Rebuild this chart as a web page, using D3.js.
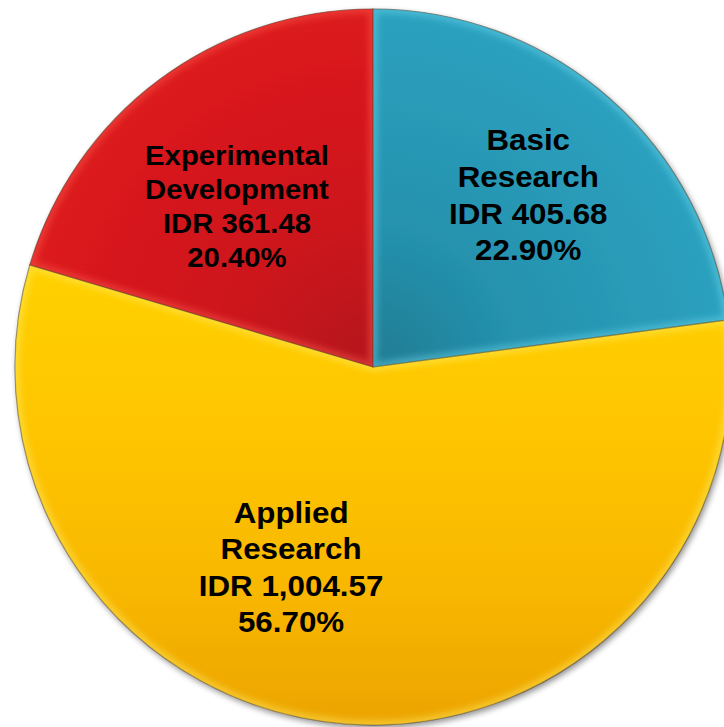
<!DOCTYPE html>
<html>
<head>
<meta charset="utf-8">
<script src="https://cdn.jsdelivr.net/npm/d3@7"></script>
<style>
  html, body { margin: 0; padding: 0; background: #fff; }
  svg { display: block; }
</style>
</head>
<body>
<svg></svg>
<script>
// R&D spending by type (IDR)
const categories = ["Basic Research", "Applied Research", "Experimental Development"]
const values = [405.68, 1004.57, 361.48]
const amountLabels = ["IDR 405.68", "IDR 1,004.57", "IDR 361.48"]
const percentLabels = ["22.90%", "56.70%", "20.40%"]
const nameLines = [["Basic", "Research"], ["Applied", "Research"], ["Experimental", "Development"]]

const width = 724, height = 727
const cx = 373, cy = 367, radius = 358

// label placement: angle (deg, clockwise from top), distance as fraction of radius
const labelLayout = [
  {angle: 42, dist: 0.648, size: 30, lh: 36.7},
  {angle: 202.3, dist: 0.603, size: 30, lh: 36.3},
  {angle: -40.1, dist: 0.59, size: 28, lh: 34}
]

const svg = d3.select("svg")
  .attr("width", width)
  .attr("height", height)

const defs = svg.append("defs")

// gradients are in the pie group's coordinates (origin = pie centre)
const gBlue = defs.append("radialGradient").attr("id", "gBlue")
  .attr("gradientUnits", "userSpaceOnUse")
  .attr("cx", 0).attr("cy", 0).attr("r", radius)
gBlue.append("stop").attr("offset", 0).attr("stop-color", "#1f7c93")
gBlue.append("stop").attr("offset", 0.4).attr("stop-color", "#2592ae")
gBlue.append("stop").attr("offset", 1).attr("stop-color", "#2ca1bf")

const gYellow = defs.append("linearGradient").attr("id", "gYellow")
  .attr("gradientUnits", "userSpaceOnUse")
  .attr("x1", 0).attr("y1", -90).attr("x2", 0).attr("y2", radius)
gYellow.append("stop").attr("offset", 0).attr("stop-color", "#ffd000")
gYellow.append("stop").attr("offset", 0.35).attr("stop-color", "#fec500")
gYellow.append("stop").attr("offset", 0.7).attr("stop-color", "#f8b700")
gYellow.append("stop").attr("offset", 1).attr("stop-color", "#eca403")

const gRed = defs.append("radialGradient").attr("id", "gRed")
  .attr("gradientUnits", "userSpaceOnUse")
  .attr("cx", 0).attr("cy", 0).attr("r", radius)
gRed.append("stop").attr("offset", 0).attr("stop-color", "#b3141a")
gRed.append("stop").attr("offset", 0.4).attr("stop-color", "#cc171c")
gRed.append("stop").attr("offset", 1).attr("stop-color", "#dc1a1e")

const fills = ["url(#gBlue)", "url(#gYellow)", "url(#gRed)"]
const glows = ["#6fd6ee", "#fff06a", "#ff5a52"]

const shadow = defs.append("filter").attr("id", "shadow")
  .attr("x", "-10%").attr("y", "-10%").attr("width", "120%").attr("height", "120%")
shadow.append("feGaussianBlur").attr("in", "SourceAlpha").attr("stdDeviation", 3)
shadow.append("feOffset").attr("dx", 2).attr("dy", 3).attr("result", "blur")
shadow.append("feComponentTransfer").append("feFuncA").attr("type", "linear").attr("slope", 0.45)
const merge = shadow.append("feMerge")
merge.append("feMergeNode")
merge.append("feMergeNode").attr("in", "SourceGraphic")

defs.append("filter").attr("id", "soft")
  .append("feGaussianBlur").attr("stdDeviation", 3)

const pie = d3.pie().sort(null).value(d => d)
const arcs = pie(values)
const arc = d3.arc().innerRadius(0).outerRadius(radius)

const g = svg.append("g").attr("transform", `translate(${cx},${cy})`)

// pie body with drop shadow
g.append("g").attr("filter", "url(#shadow)")
  .selectAll("path")
  .data(arcs)
  .enter()
  .append("path")
  .attr("d", arc)
  .attr("fill", (d, i) => fills[i])

// bevel glow along slice edges
arcs.forEach(function(d, i) {
  defs.append("clipPath").attr("id", "clip" + i)
    .append("path")
    .attr("transform", `translate(${cx},${cy})`)
    .attr("d", arc(d))
})

svg.append("g")
  .selectAll("path")
  .data(arcs)
  .enter()
  .append("g")
  .attr("clip-path", (d, i) => "url(#clip" + i + ")")
  .append("path")
  .attr("transform", `translate(${cx},${cy})`)
  .attr("d", arc)
  .attr("fill", "none")
  .attr("stroke", (d, i) => glows[i])
  .attr("stroke-width", 9)
  .attr("stroke-opacity", 0.45)
  .attr("filter", "url(#soft)")

// thin dark edges
g.append("g")
  .selectAll("path")
  .data(arcs)
  .enter()
  .append("path")
  .attr("d", arc)
  .attr("fill", "none")
  .attr("stroke", "#3a2a10")
  .attr("stroke-opacity", 0.55)
  .attr("stroke-width", 1.2)

// labels, slightly stretched horizontally like the original
const labels = svg.append("g")
  .selectAll("text")
  .data(arcs)
  .enter()
  .append("text")
  .attr("text-anchor", "middle")
  .attr("font-family", "'Liberation Sans', Arial, sans-serif")
  .attr("font-weight", "bold")
  .attr("fill", "#000")
  .attr("font-size", (d, i) => labelLayout[i].size + "px")

labels.each(function(d, i) {
  const L = labelLayout[i]
  const a = L.angle * Math.PI / 180
  const x = cx + Math.sin(a) * L.dist * radius
  const y = cy - Math.cos(a) * L.dist * radius
  const lines = nameLines[i].concat([amountLabels[i], percentLabels[i]])
  d3.select(this)
    .attr("transform", `translate(${x},0) scale(1.045,1)`)
    .selectAll("tspan")
    .data(lines)
    .enter()
    .append("tspan")
    .attr("x", 0)
    .attr("y", (t, k) => y + (k - 1.5) * L.lh + 0.36 * L.size)
    .text(t => t)
})
</script>
</body>
</html>
